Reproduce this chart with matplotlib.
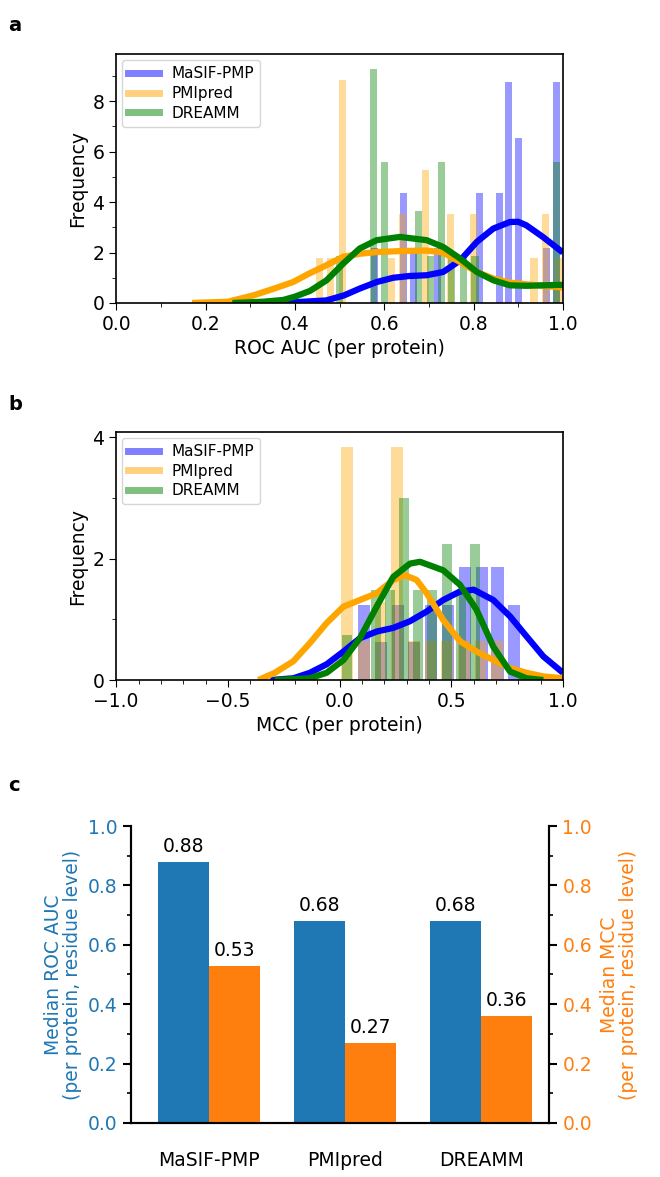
import numpy as np
import matplotlib
matplotlib.use("Agg")
import matplotlib.pyplot as plt
from matplotlib.lines import Line2D
from matplotlib.ticker import MultipleLocator

methods = ["MaSIF-PMP", "PMIpred", "DREAMM"]
hist_colors = ["blue", "orange", "green"]

# panel a: ROC AUC per protein histograms (bin centre, density)
auc_bins = {
    "MaSIF-PMP": ([0.578, 0.643, 0.665, 0.72, 0.814, 0.857, 0.879, 0.90, 0.963, 0.986],
                  [2.19, 4.37, 2.19, 2.19, 4.37, 4.37, 8.77, 6.55, 2.19, 8.77]),
    "PMIpred": ([0.455, 0.48, 0.506, 0.616, 0.64, 0.693, 0.749, 0.80, 0.935, 0.96, 0.99],
                [1.77, 1.77, 8.83, 1.77, 3.52, 5.27, 3.52, 3.52, 1.77, 3.52, 1.77]),
    "DREAMM": ([0.50, 0.575, 0.60, 0.676, 0.703, 0.728, 0.75, 0.777, 0.803, 0.985],
               [1.86, 9.30, 5.58, 3.66, 1.86, 5.58, 1.86, 1.86, 1.86, 5.58]),
}
# KDE curves
auc_kde_x = {
    "MaSIF-PMP": [0.35, 0.40, 0.47, 0.51, 0.545, 0.583, 0.62, 0.657, 0.695, 0.732, 0.77,
                  0.807, 0.844, 0.881, 0.90, 0.918, 0.955, 1.0],
    "PMIpred": [0.17, 0.25, 0.307, 0.35, 0.396, 0.43, 0.463, 0.508, 0.545, 0.583, 0.64, 0.695,
                0.732, 0.77, 0.807, 0.844, 0.881, 0.918, 0.955, 1.0],
    "DREAMM": [0.26, 0.33, 0.374, 0.40, 0.434, 0.471, 0.508, 0.545, 0.583, 0.635, 0.695,
               0.732, 0.77, 0.807, 0.844, 0.881, 0.918, 0.955, 1.0],
}
auc_kde_y = {
    "MaSIF-PMP": [0.0, 0.03, 0.1, 0.3, 0.57, 0.83, 1.0, 1.07, 1.1, 1.23, 1.69,
                  2.42, 2.95, 3.21, 3.22, 3.08, 2.62, 2.0],
    "PMIpred": [0.0, 0.05, 0.3, 0.55, 0.83, 1.15, 1.43, 1.83, 1.95, 2.02, 2.06, 2.08,
                2.0, 1.62, 1.23, 0.97, 0.81, 0.74, 0.68, 0.61],
    "DREAMM": [0.0, 0.05, 0.12, 0.25, 0.48, 0.9, 1.56, 2.16, 2.49, 2.62, 2.49,
               2.22, 1.76, 1.23, 0.9, 0.70, 0.68, 0.70, 0.72],
}

# panel b: MCC per protein histograms (bin centre, density)
mcc_bins = {
    "MaSIF-PMP": ([0.11, 0.185, 0.26, 0.335, 0.41, 0.485, 0.56, 0.636, 0.707, 0.781],
                  [1.24, 0.62, 1.24, 0.62, 1.24, 1.24, 1.87, 1.87, 1.87, 1.24]),
    "PMIpred": ([0.034, 0.108, 0.183, 0.258, 0.332, 0.407, 0.481, 0.556, 0.630, 0.705],
                [3.85, 0.64, 1.28, 3.85, 0.64, 0.64, 0.64, 0.64, 0.64, 0.64]),
    "DREAMM": ([0.035, 0.162, 0.225, 0.288, 0.352, 0.415, 0.479, 0.542, 0.606],
               [0.75, 1.49, 1.49, 3.0, 1.49, 1.49, 2.24, 1.49, 2.24]),
}
mcc_width = {"MaSIF-PMP": 0.054, "PMIpred": 0.052, "DREAMM": 0.045}
mcc_kde_x = {
    "MaSIF-PMP": [-0.31, -0.207, -0.133, -0.058, 0.017, 0.091, 0.166, 0.24, 0.315, 0.39,
                  0.464, 0.539, 0.6, 0.688, 0.763, 0.837, 0.912, 1.0],
    "PMIpred": [-0.364, -0.29, -0.207, -0.133, -0.058, 0.017, 0.091, 0.166, 0.24, 0.293,
                0.345, 0.39, 0.464, 0.539, 0.613, 0.688, 0.763, 0.837, 0.912, 1.0],
    "DREAMM": [-0.29, -0.133, -0.058, 0.017, 0.091, 0.166, 0.24, 0.315, 0.36, 0.464,
               0.539, 0.613, 0.688, 0.763, 0.837, 0.912],
}
mcc_kde_y = {
    "MaSIF-PMP": [0.0, 0.03, 0.12, 0.26, 0.47, 0.69, 0.8, 0.86, 0.97, 1.13,
                  1.32, 1.46, 1.49, 1.32, 1.05, 0.72, 0.39, 0.12],
    "PMIpred": [0.0, 0.12, 0.31, 0.61, 0.94, 1.21, 1.32, 1.43, 1.65, 1.73,
                1.65, 1.43, 0.99, 0.64, 0.47, 0.33, 0.2, 0.12, 0.06, 0.03],
    "DREAMM": [0.0, 0.03, 0.12, 0.33, 0.69, 1.21, 1.70, 1.92, 1.95, 1.81,
               1.57, 1.16, 0.55, 0.14, 0.03, 0.0],
}

# panel c: medians
median_auc = [0.88, 0.68, 0.68]
median_mcc = [0.53, 0.27, 0.36]

fig = plt.figure(figsize=(6.6, 11.77), dpi=100)
fs = 13.5


def hist_panel(ax, bins, width, kde_x, kde_y):
    for m, c in zip(methods, hist_colors):
        centres, heights = bins[m]
        w = width[m] if isinstance(width, dict) else width
        ax.bar(centres, heights, width=w, color=c, alpha=0.4, linewidth=0)
    for m, c in zip(methods, hist_colors):
        ax.plot(kde_x[m], kde_y[m], color=c, lw=4.5, solid_capstyle="butt",
                solid_joinstyle="round")
    handles = [Line2D([], [], color=c, lw=5, alpha=0.5) for c in hist_colors]
    ax.legend(handles, methods, loc="upper left", fontsize=11, handlelength=2.0,
              borderaxespad=0.4, labelspacing=0.3)
    ax.set_ylabel("Frequency", fontsize=fs)
    ax.tick_params(labelsize=fs, which="major", length=5)
    ax.tick_params(which="minor", length=3)
    for s in ax.spines.values():
        s.set_linewidth(1.2)


# --- a
ax1 = fig.add_axes([0.176, 0.7426, 0.677, 0.2114])
hist_panel(ax1, auc_bins, 0.016, auc_kde_x, auc_kde_y)
ax1.set_xlim(0, 1)
ax1.set_ylim(0, 9.87)
ax1.xaxis.set_major_locator(MultipleLocator(0.2))
ax1.xaxis.set_minor_locator(MultipleLocator(0.1))
ax1.yaxis.set_major_locator(MultipleLocator(2))
ax1.yaxis.set_minor_locator(MultipleLocator(1))
ax1.set_xlabel("ROC AUC (per protein)", fontsize=fs)

# --- b
ax2 = fig.add_axes([0.176, 0.4222, 0.677, 0.2108])
hist_panel(ax2, mcc_bins, mcc_width, mcc_kde_x, mcc_kde_y)
ax2.set_xlim(-1, 1)
ax2.set_ylim(0, 4.09)
ax2.xaxis.set_major_locator(MultipleLocator(0.5))
ax2.xaxis.set_minor_locator(MultipleLocator(0.1))
ax2.yaxis.set_major_locator(MultipleLocator(2))
ax2.yaxis.set_minor_locator(MultipleLocator(1))
ax2.set_xlabel("MCC (per protein)", fontsize=fs)

# --- c
c_auc = "#1f77b4"
c_mcc = "#ff7f0e"
ax3 = fig.add_axes([0.198, 0.0459, 0.634, 0.2523])
ax4 = ax3.twinx()
x = np.arange(len(methods))
w = 0.375
b1 = ax3.bar(x - w / 2, median_auc, width=w, color=c_auc)
b2 = ax4.bar(x + w / 2, median_mcc, width=w, color=c_mcc)
for b, v in zip(b1, median_auc):
    ax3.text(b.get_x() + b.get_width() / 2, v + 0.02, f"{v:.2f}", ha="center",
             va="bottom", fontsize=fs)
for b, v in zip(b2, median_mcc):
    ax4.text(b.get_x() + b.get_width() / 2, v + 0.02, f"{v:.2f}", ha="center",
             va="bottom", fontsize=fs)
for a in (ax3, ax4):
    a.set_ylim(0, 1)
    a.set_xlim(-0.575, 2.5)
    a.yaxis.set_major_locator(MultipleLocator(0.2))
    a.yaxis.set_minor_locator(MultipleLocator(0.1))
    a.spines["top"].set_visible(False)
    for s in ("left", "right", "bottom"):
        a.spines[s].set_linewidth(1.5)
    a.tick_params(which="major", length=6, width=1.5)
    a.tick_params(which="minor", length=3, width=1.2)
ax3.tick_params(axis="y", labelcolor=c_auc, labelsize=fs)
ax4.tick_params(axis="y", labelcolor=c_mcc, labelsize=fs)
ax3.set_xticks(x)
ax3.set_xticklabels(methods, fontsize=fs)
ax3.tick_params(axis="x", length=0, pad=20)
ax3.set_ylabel("Median ROC AUC\n(per protein, residue level)", color=c_auc,
               fontsize=fs, linespacing=1.0)
ax4.set_ylabel("Median MCC\n(per protein, residue level)", color=c_mcc,
               fontsize=fs, linespacing=1.0, rotation=90, labelpad=6)

# panel letters
for lbl, yy in (("a", 0.978), ("b", 0.656), ("c", 0.333)):
    fig.text(0.012, yy, lbl, fontsize=14, fontweight="bold", va="center")

fig.savefig("out.png", dpi=100)
